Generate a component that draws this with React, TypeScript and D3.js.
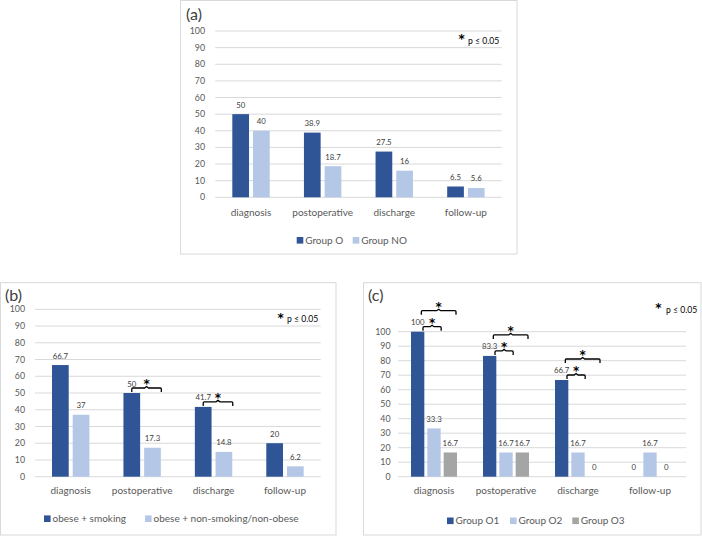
import React from "react";
import * as d3 from "d3";

const categories = ["diagnosis", "postoperative", "discharge", "follow-up"];

const seriesA = ["Group O", "Group NO"];
const groupO = [50, 38.9, 27.5, 6.5];
const groupNO = [40, 18.7, 16, 5.6];

const seriesB = ["obese + smoking", "obese + non-smoking/non-obese"];
const obeseSmoking = [66.7, 50, 41.7, 20];
const obeseNonSmoking = [37, 17.3, 14.8, 6.2];

const seriesC = ["Group O1", "Group O2", "Group O3"];
const groupO1 = [100, 83.3, 66.7, 0];
const groupO2 = [33.3, 16.7, 16.7, 16.7];
const groupO3 = [16.7, 16.7, 0, 0];

const yTicks = [0, 10, 20, 30, 40, 50, 60, 70, 80, 90, 100];
const panelTitles = ["(a)", "(b)", "(c)"];
const noteText = "p ≤ 0.05";

// significance brackets: category, from series, to series, level
const bracketsB = [
  { cat: "postoperative", from: 0, to: 1, level: 0 },
  { cat: "discharge", from: 0, to: 1, level: 0 },
];
const bracketsC = [
  { cat: "diagnosis", from: 0, to: 1, level: 0 },
  { cat: "diagnosis", from: 0, to: 2, level: 1 },
  { cat: "postoperative", from: 0, to: 1, level: 0 },
  { cat: "postoperative", from: 0, to: 2, level: 1 },
  { cat: "discharge", from: 0, to: 1, level: 0 },
  { cat: "discharge", from: 0, to: 2, level: 1 },
];

const colors = ["#2F5597", "#B4C7E7", "#A5A5A5"];
const FONT = "Lato, 'Open Sans', sans-serif";
const STAR_FONT = "'DejaVu Sans', sans-serif";
const TXT = "#595959";

type Bracket = { cat: string; from: number; to: number; level: number };

type PanelProps = {
  title: string;
  series: string[];
  values: number[][];
  brackets: Bracket[];
  box: { x: number; y: number; w: number; h: number };
  plot: { left: number; right: number; y0: number; y100: number };
  tickRight: number;
  catY: number;
  legendY: number;
  legendX: number[];
  titlePos: [number, number];
  note: { sx: number; sy: number; tx: number; ty: number };
  inner: { width: number; pad: number };
  bracketStart: number;
};

function Star({ x, y }: { x: number; y: number }) {
  return (
    <text
      x={x}
      y={y}
      textAnchor="middle"
      fontSize={12}
      fontWeight="bold"
      fill="#000"
      fontFamily={STAR_FONT}
    >
      *
    </text>
  );
}

function Panel(p: PanelProps) {
  const x0 = d3
    .scaleBand<string>()
    .domain(categories)
    .range([p.plot.left, p.plot.right])
    .paddingInner(0)
    .paddingOuter(0);
  const y = d3.scaleLinear().domain([0, 100]).range([p.plot.y0, p.plot.y100]);
  const idx = p.series.map((_, i) => String(i));
  const x1 = d3
    .scaleBand<string>()
    .domain(idx)
    .range([-p.inner.width / 2, p.inner.width / 2])
    .paddingInner(p.inner.pad)
    .paddingOuter(0);
  const bw = x1.bandwidth();
  const cx = (c: string) => (x0(c) as number) + x0.bandwidth() / 2;

  return (
    <g>
      <rect
        x={p.box.x}
        y={p.box.y}
        width={p.box.w}
        height={p.box.h}
        fill="#fff"
        stroke="#d9d9d9"
        strokeWidth={1}
      />
      <text
        x={p.titlePos[0]}
        y={p.titlePos[1]}
        fontSize={16}
        fill="#404040"
        fontFamily={FONT}
      >
        {p.title}
      </text>
      {yTicks.map((t) => (
        <g key={t}>
          <line
            x1={p.plot.left}
            x2={p.plot.right}
            y1={y(t)}
            y2={y(t)}
            stroke="#d9d9d9"
            strokeWidth={1}
          />
          <text
            x={p.tickRight}
            y={y(t)}
            dy="0.35em"
            textAnchor="end"
            fontSize={8.8}
            fill={TXT}
            fontFamily={FONT}
          >
            {t}
          </text>
        </g>
      ))}
      {categories.map((c, ci) => (
        <g key={c}>
          {p.values.map((vals, si) => {
            const bx = cx(c) + (x1(String(si)) as number);
            const v = vals[ci];
            return (
              <g key={si}>
                {v > 0 && (
                  <rect
                    x={bx}
                    y={y(v)}
                    width={bw}
                    height={y(0) - y(v)}
                    fill={colors[si]}
                  />
                )}
                <text
                  x={bx + bw / 2}
                  y={y(v) - 6.5}
                  textAnchor="middle"
                  fontSize={7.8}
                  fill="#404040"
                  fontFamily={FONT}
                >
                  {v}
                </text>
              </g>
            );
          })}
          <text
            x={cx(c)}
            y={p.catY}
            dy="0.35em"
            textAnchor="middle"
            fontSize={10}
            fill={TXT}
            fontFamily={FONT}
          >
            {c}
          </text>
        </g>
      ))}
      {p.brackets.map((b, i) => {
        const ci = categories.indexOf(b.cat);
        const fromX = cx(b.cat) + (x1(String(b.from)) as number);
        const toX = cx(b.cat) + (x1(String(b.to)) as number);
        const top = y(p.values[b.from][ci]);
        const by = top - (b.level === 0 ? 5 : 21);
        const xa = b.level === 0 ? fromX + bw * p.bracketStart : fromX + bw - 3;
        const xb = b.level === 0 ? toX + bw + 0.5 : toX + bw - 1;
        const mid = (xa + xb) / 2;
        const d = `M${xa},${by + 4} L${xa},${by + 1} Q${xa},${by} ${xa + 1},${by} L${mid - 2},${by} L${mid},${by - 1.5} L${mid + 2},${by} L${xb - 1},${by} Q${xb},${by} ${xb},${by + 1} L${xb},${by + 4}`;
        return (
          <g key={i}>
            <path d={d} fill="none" stroke="#000" strokeWidth={1.3} />
            <Star x={mid} y={by + 0.3} />
          </g>
        );
      })}
      <Star x={p.note.sx} y={p.note.sy} />
      <text
        x={p.note.tx}
        y={p.note.ty}
        fontSize={8.6}
        fill="#000"
        fontFamily={FONT}
      >
        {noteText}
      </text>
      {p.series.map((s, si) => (
        <g key={s}>
          <rect
            x={p.legendX[si]}
            y={p.legendY - 3.3}
            width={6.6}
            height={6.6}
            fill={colors[si]}
          />
          <text
            x={p.legendX[si] + 8.5}
            y={p.legendY}
            dy="0.35em"
            fontSize={10}
            fill={TXT}
            fontFamily={FONT}
          >
            {s}
          </text>
        </g>
      ))}
    </g>
  );
}

export default function App() {
  return (
    <svg
      width={702}
      height={537}
      style={{ position: "fixed", left: 0, top: 0, background: "#fff" }}
    >
      <rect x={0} y={0} width={702} height={537} fill="#fff" />
      <Panel
        title={panelTitles[0]}
        series={seriesA}
        values={[groupO, groupNO]}
        brackets={[]}
        box={{ x: 180.5, y: 0.5, w: 336.5, h: 253.5 }}
        plot={{ left: 215.2, right: 501.7, y0: 197.3, y100: 31 }}
        tickRight={205}
        catY={212}
        legendY={240.3}
        legendX={[296.7, 352.7]}
        titlePos={[186, 19.5]}
        note={{ sx: 461.7, sy: 43.3, tx: 468, ty: 44 }}
        inner={{ width: 37.4, pad: 0.193 }}
        bracketStart={0.5}
      />
      <Panel
        title={panelTitles[1]}
        series={seriesB}
        values={[obeseSmoking, obeseNonSmoking]}
        brackets={bracketsB}
        box={{ x: 0.5, y: 282.7, w: 335.5, h: 252.3 }}
        plot={{ left: 35, right: 320.7, y0: 476.7, y100: 309.3 }}
        tickRight={25}
        catY={490.7}
        legendY={518.7}
        legendX={[44, 145]}
        titlePos={[5, 300.5]}
        note={{ sx: 280.7, sy: 321.6, tx: 287, ty: 322 }}
        inner={{ width: 37.4, pad: 0.193 }}
        bracketStart={0.5}
      />
      <Panel
        title={panelTitles[2]}
        series={seriesC}
        values={[groupO1, groupO2, groupO3]}
        brackets={bracketsC}
        box={{ x: 363.5, y: 282.7, w: 337.5, h: 252.3 }}
        plot={{ left: 398, right: 686, y0: 476.7, y100: 331.7 }}
        tickRight={390.5}
        catY={490.7}
        legendY={520.8}
        legendX={[447, 510, 572.3]}
        titlePos={[368, 300.5]}
        note={{ sx: 658.3, sy: 311.6, tx: 666, ty: 312.5 }}
        inner={{ width: 46, pad: 0.184 }}
        bracketStart={0.9}
      />
    </svg>
  );
}
